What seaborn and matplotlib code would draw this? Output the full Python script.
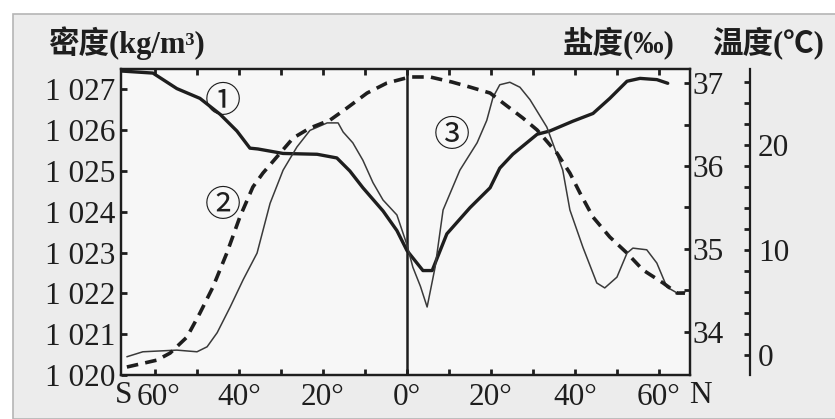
import numpy as np
import matplotlib
matplotlib.use("Agg")
import matplotlib.pyplot as plt
from matplotlib.patches import Rectangle
from matplotlib.transforms import ScaledTranslation
import seaborn as sns

# ---------------------------------------------------------------
# data (latitude: S negative, N positive)
# ---------------------------------------------------------------
dens_lat = [-68, -60.5, -54.8, -49.3, -44.5, -40.5, -37.4, -35.5, -29.5, -21.4,
            -16.7, -13.6, -10.5, -5.7, -2.4, 0, 3.8, 6, 9.5, 15,
            19.8, 22.1, 25.2, 31, 34, 39.5, 44.3, 48.3, 52.4, 55.5,
            59.5, 62.1]
dens = [1027.45, 1027.4, 1027.02, 1026.78, 1026.39, 1025.98, 1025.56, 1025.54, 1025.43, 1025.41,
        1025.32, 1025.0, 1024.59, 1024.02, 1023.54, 1023.05, 1022.56, 1022.56, 1023.46, 1024.1,
        1024.59, 1025.07, 1025.41, 1025.9, 1025.98, 1026.22, 1026.41, 1026.78, 1027.2, 1027.27,
        1027.24, 1027.15]

sal_lat = [-66.7, -62.9, -54.8, -50, -47.6, -45.2, -42.1, -39.0, -35.7, -32.6,
           -29.5, -26.2, -23.1, -19, -16.4, -15.2, -12.9, -10.5, -8.1, -5.7,
           -2.4, 0, 1.4, 3.2, 4.8, 6.7, 8.6, 12.6, 16.7, 19.0,
           20.5, 22.1, 24.5, 26.9, 29.3, 33.3, 37.1, 38.8, 41.9, 45.2,
           47.1, 50, 52.4, 53.8, 57.1, 59.5, 61.9, 64.3, 66.2]
sal = [33.70, 33.76, 33.78, 33.76, 33.82, 33.99, 34.30, 34.63, 34.95, 35.55,
       35.95, 36.23, 36.43, 36.52, 36.52, 36.41, 36.28, 36.07, 35.80, 35.59,
       35.41, 35.05, 34.78, 34.55, 34.30, 34.78, 35.47, 35.95, 36.28, 36.55,
       36.83, 36.98, 37.01, 36.95, 36.80, 36.47, 35.95, 35.47, 35.02, 34.59,
       34.53, 34.66, 34.95, 35.01, 34.99, 34.83, 34.54, 34.47, 34.48]

temp_lat = [-66.7, -59.5, -56.4, -52.4, -49.3, -46.2, -42.9, -39.8, -36.7, -34.3,
            -31.0, -27.1, -23.1, -18.3, -14.3, -9.5, -4.8, 0.7, 5.5, 10.7,
            15, 19.8, 22.9, 27.6, 31, 35.7, 38.8, 41.2, 44.3, 48.3,
            52.4, 56.2, 61, 64.3, 66.2]
temp = [-1.14, -0.48, 0.19, 1.71, 4.0, 6.48, 9.71, 13.14, 16.0, 17.33,
        18.86, 20.67, 21.62, 22.38, 23.52, 24.95, 25.9, 26.48, 26.48, 26.0,
        25.52, 24.95, 24.0, 22.57, 21.43, 19.24, 17.33, 15.43, 13.14, 11.24,
        9.71, 8.1, 6.86, 5.9, 5.9]

x_ticks = [-60, -40, -20, 0, 20, 40, 60]
x_labels = ["60°", "40°", "20°", "0°", "20°", "40°", "60°"]
dens_ticks = [1020, 1021, 1022, 1023, 1024, 1025, 1026, 1027]
dens_labels = ["1 020", "1 021", "1 022", "1 023", "1 024", "1 025", "1 026", "1 027"]
sal_ticks = [34, 35, 36, 37]
temp_ticks = [0, 10, 20]

# ---------------------------------------------------------------
# style
# ---------------------------------------------------------------
sns.set_style("ticks")
plt.rcParams["font.family"] = ["Liberation Serif", "Noto Sans CJK SC", "DejaVu Sans"]
plt.rcParams["axes.linewidth"] = 1.6
ink = "#1e1e1e"
fs = 22.5

fig = plt.figure(figsize=(8.35, 4.19), dpi=100)
fig.patch.set_facecolor("white")
fig.add_artist(Rectangle((13 / 835, 0), 1, (419 - 14) / 419, transform=fig.transFigure,
                         facecolor="#ececec", edgecolor="#b5b5b5", lw=1.2, zorder=0))

ax = fig.add_axes([121 / 835, 44 / 419, 569 / 835, 306 / 419])
ax.set_facecolor("#f7f7f7")
ax_s = ax.twinx()
ax_t = ax.twinx()

# curves
sns.lineplot(x=dens_lat, y=dens, ax=ax, color=ink, lw=2.4)
sns.lineplot(x=sal_lat, y=sal, ax=ax_s, color="#3a3a3a", lw=1.1)
sns.lineplot(x=temp_lat, y=temp, ax=ax_t, color=ink, lw=2.6, ls="--")
ax_t.lines[-1].set_dashes([3.2, 2.0])

ax.axvline(0, color=ink, lw=1.8)

# limits
ax.set_xlim(-68.1, 67.4)
ax.set_ylim(1020, 1027.5)
ax_s.set_ylim(33.48, 37.17)
ax_t.set_ylim(-1.9, 27.24)

# left / bottom axis
ax.set_xticks(np.arange(-60, 61, 10), minor=True)
ax.set_xticks(x_ticks)
ax.set_xticklabels(x_labels, fontsize=fs)
ax.set_yticks(dens_ticks)
ax.set_yticklabels(dens_labels, fontsize=fs)
ax.tick_params(axis="both", which="both", direction="in", length=4, width=2,
               color=ink, labelcolor=ink, top=True)
ax.tick_params(axis="y", pad=4)
ax.tick_params(axis="x", pad=6)
ax.set_xlabel("")
ax.set_ylabel("")

# nudge the first "60°" a little right to leave room for "S"
first = ax.get_xticklabels()[0]
first.set_transform(first.get_transform() + ScaledTranslation(3 / 100, 0, fig.dpi_scale_trans))

# salinity axis
ax_s.set_yticks(np.arange(34, 37.01, 0.5), minor=True)
ax_s.set_yticks(sal_ticks)
ax_s.set_yticklabels([str(v) for v in sal_ticks], fontsize=fs)
ax_s.tick_params(axis="y", which="both", direction="in", length=4, width=2,
                 color=ink, labelcolor=ink, pad=2)
ax_s.set_ylabel("")

# temperature axis
ax_t.spines["right"].set_position(("outward", 43))
for s in ["top", "left", "bottom"]:
    ax_t.spines[s].set_visible(False)
ax_t.set_yticks(np.arange(0, 27, 2), minor=True)
ax_t.set_yticks(temp_ticks)
ax_t.set_yticklabels([str(v) for v in temp_ticks], fontsize=fs)
ax_t.tick_params(axis="y", which="both", direction="in", length=4, width=2,
                 color=ink, labelcolor=ink, pad=6)
ax_t.set_ylabel("")

for a in (ax, ax_s, ax_t):
    for sp in a.spines.values():
        sp.set_color(ink)

# hemisphere letters beside the end tick labels
xt = ax.get_xaxis_transform()
ax.text(-67.4, -0.092, "S", transform=xt, fontsize=fs, color=ink, ha="center", va="baseline")
ax.text(69.8, -0.092, "N", transform=xt, fontsize=fs, color=ink, ha="center", va="baseline")

# curve numbers
for txt, xx, yy in [("①", -43.8, 1026.7), ("②", -43.8, 1024.15), ("③", 10.7, 1025.85)]:
    ax.text(xx, yy, txt, fontsize=26, color=ink, ha="center", va="center",
            family=["Noto Sans CJK SC", "DejaVu Sans"])

# axis titles
fig.text(48 / 835, 1 - 43 / 419, "密度(kg/m³)", fontsize=22, fontweight="bold",
         color=ink, ha="left", va="center")
fig.text(563 / 835, 1 - 43 / 419, "盐度(‰)", fontsize=22, fontweight="bold",
         color=ink, ha="left", va="center")
fig.text(712 / 835, 1 - 43 / 419, "温度(℃)", fontsize=22, fontweight="bold",
         color=ink, ha="left", va="center")

fig.savefig("out.png", dpi=100)
